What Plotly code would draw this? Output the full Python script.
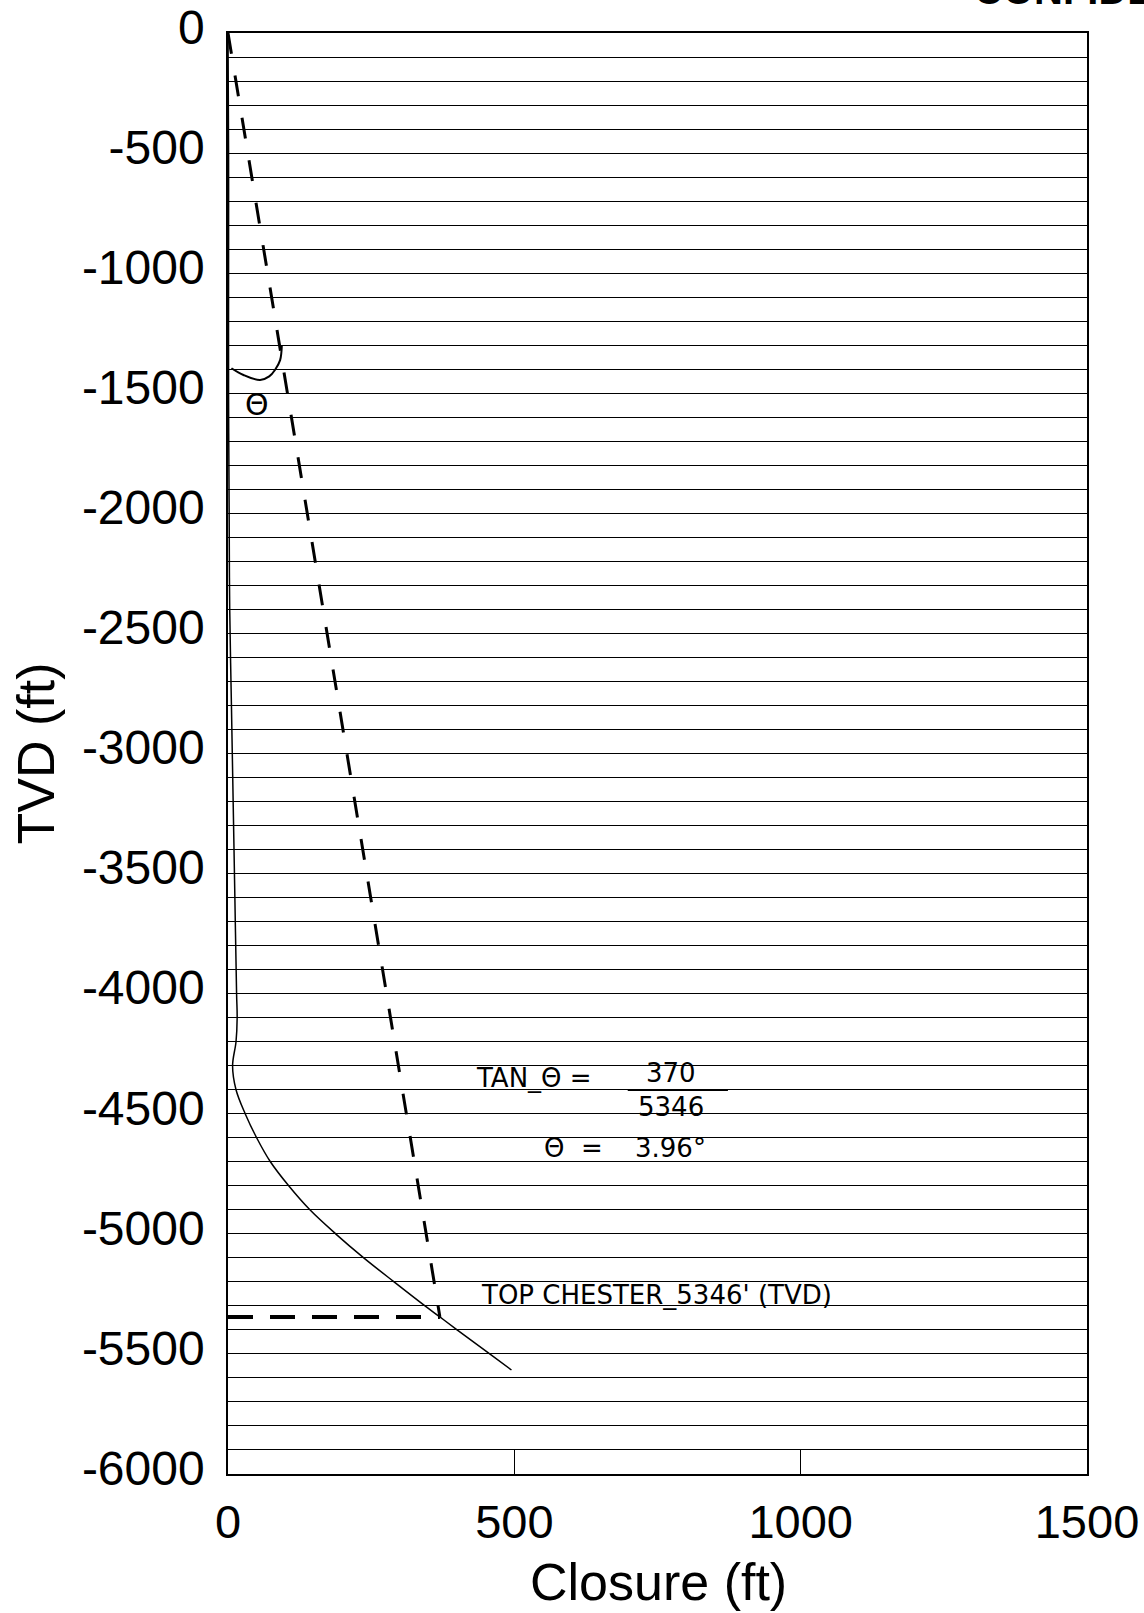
import plotly.graph_objects as go

# ---- data ----
traj_tvd = [0, -500, -1000, -1500, -2000, -2400, -2800, -3200, -3600, -4000, -4100,
            -4200, -4300, -4400, -4500, -4600, -4700, -4800, -4900, -5000, -5100,
            -5200, -5300, -5346, -5400, -5500, -5567]
traj_closure = [0, 1, 1, 1, 2, 3, 6, 9, 12, 15, 16,
                14, 8, 14, 30, 50, 74, 106, 143, 188, 237,
                290, 344, 370, 400, 457, 495]

proj_closure = [0, 370]
proj_tvd = [0, -5346]

chester_closure = [0, 370]
chester_tvd = [-5346, -5346]

arc_closure = [6, 27, 56, 72, 82, 91, 94]
arc_tvd = [-1396, -1424, -1445, -1430, -1403, -1362, -1300]

y_tickvals = [0, -500, -1000, -1500, -2000, -2500, -3000, -3500, -4000, -4500,
              -5000, -5500, -6000]
y_ticktext = ["0", "-500", "-1000", "-1500", "-2000", "-2500", "-3000", "-3500",
              "-4000", "-4500", "-5000", "-5500", "-6000"]
x_tickvals = [0, 500, 1000, 1500]
x_ticktext = ["0", "500", "1000", "1500"]

FONT = "Liberation Sans, Arial, sans-serif"
HAND = "DejaVu Sans, sans-serif"

fig = go.Figure()

fig.add_trace(go.Scatter(x=traj_closure, y=traj_tvd, mode="lines",
                         line=dict(color="black", width=1.5, shape="spline", smoothing=1),
                         showlegend=False, hoverinfo="skip"))
fig.add_trace(go.Scatter(x=proj_closure, y=proj_tvd, mode="lines",
                         line=dict(color="black", width=3, dash="21px,22px"),
                         showlegend=False, hoverinfo="skip"))
fig.add_trace(go.Scatter(x=chester_closure, y=chester_tvd, mode="lines",
                         line=dict(color="black", width=4, dash="25px,17px"),
                         showlegend=False, hoverinfo="skip"))
fig.add_trace(go.Scatter(x=arc_closure, y=arc_tvd, mode="lines",
                         line=dict(color="black", width=2, shape="spline"),
                         showlegend=False, hoverinfo="skip"))

# hand-written notes
notes = [
    dict(x=51, y=-1545, text="Θ", xanchor="center", size=30),
    dict(x=429, y=-4351, text="TAN_Θ =", xanchor="left", size=26),
    dict(x=774, y=-4330, text="370", xanchor="center", size=26),
    dict(x=774, y=-4472, text="5346", xanchor="center", size=26),
    dict(x=604, y=-4643, text="Θ  =", xanchor="center", size=26),
    dict(x=773, y=-4643, text="3.96°", xanchor="center", size=26),
    dict(x=438, y=-5255, text="TOP CHESTER_5346' (TVD)", xanchor="left", size=26),
]
for n in notes:
    fig.add_annotation(x=n["x"], y=n["y"], text=n["text"], xanchor=n["xanchor"],
                       yanchor="middle", showarrow=False,
                       font=dict(family=HAND, size=n["size"], color="black"))

# fraction bar
fig.add_shape(type="line", x0=698, x1=873, y0=-4401, y1=-4401,
              line=dict(color="black", width=2))

# x-axis title (placed at the page bottom, as in the reference)
fig.add_annotation(xref="paper", yref="paper", x=0.5006, y=-(1613 - 1474) / 1441,
                   xanchor="center", yanchor="bottom", text="Closure (ft)",
                   showarrow=False, font=dict(family=FONT, size=52, color="black"))

# cut-off stamp at the very top of the page
fig.add_annotation(xref="paper", yref="paper", x=(972 - 228) / 859, y=1 + 19 / 1441,
                   xanchor="left", yanchor="bottom", text="<b>CONFIDENTIAL</b>",
                   showarrow=False, font=dict(family=FONT, size=40, color="black"))

fig.update_layout(
    width=1144, height=1613,
    margin=dict(l=228, r=57, t=33, b=139),
    paper_bgcolor="white", plot_bgcolor="white",
    font=dict(family=FONT, color="black"),
    showlegend=False,
)
fig.update_xaxes(
    range=[0, 1500], tickvals=x_tickvals, ticktext=x_ticktext,
    tickfont=dict(size=47), ticks="inside", ticklen=25, tickwidth=1.2, tickcolor="black",
    ticklabelstandoff=6, ticklabeloverflow="allow", automargin=False,
    showline=True, linecolor="black", linewidth=1.5, mirror=True,
    showgrid=False, zeroline=False,
)
fig.update_yaxes(
    range=[-6000, 0], tickvals=y_tickvals, ticktext=y_ticktext,
    tickfont=dict(size=48), ticks="", ticklabelstandoff=12, ticklabelshift=-6,
    ticklabeloverflow="allow", automargin=False,
    showline=True, linecolor="black", linewidth=1.5, mirror=True,
    showgrid=True, gridcolor="black", gridwidth=1.3, zeroline=False,
    minor=dict(dtick=100, tick0=0, showgrid=True, gridcolor="black", gridwidth=1.3),
    title=dict(text="TVD (ft)", font=dict(size=52), standoff=11),
)

fig.write_html("out.html", config={"displayModeBar": False},
               post_script="document.body.style.margin='0';")
